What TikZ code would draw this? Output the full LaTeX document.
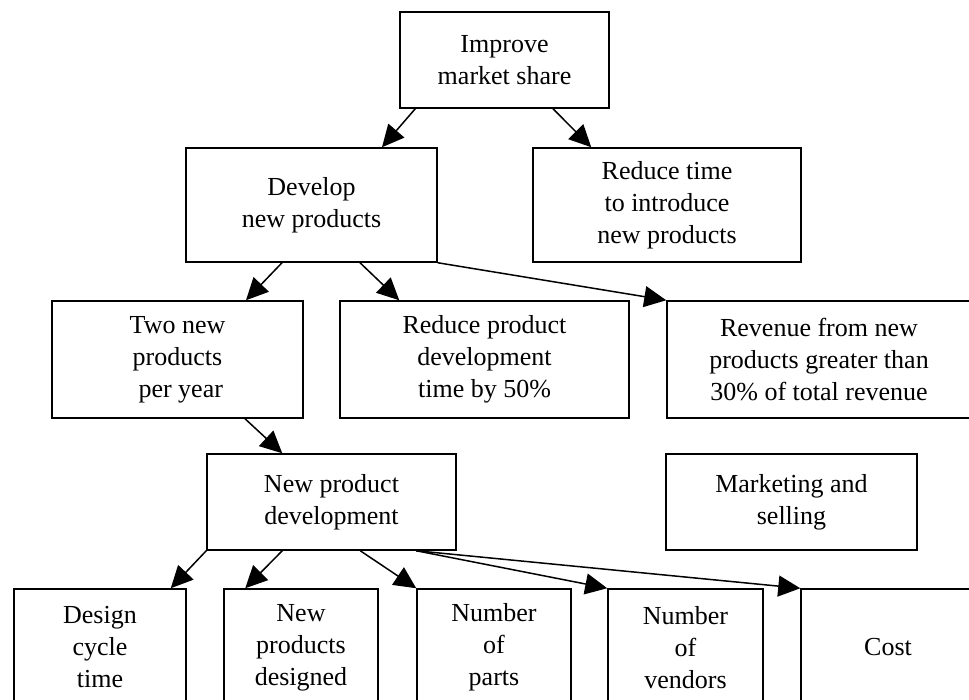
\documentclass[tikz,border=0pt]{standalone}
\usepackage{fontspec}
\setmainfont{Liberation Serif}
\usetikzlibrary{arrows.meta}

\begin{document}
\begin{tikzpicture}[x=1pt, y=-1pt, line width=1.5pt, >={Triangle[length=22pt,width=21pt]},
	box/.style={draw, align=center, inner sep=0pt, minimum height=117pt, font=\fontsize{26}{32}\selectfont}]

				\useasboundingbox (0,0) rectangle (969,700);
				\clip (0,0) rectangle (969,700); %hoja recortada

				% nivel 1 y 2
				\node [box, minimum width=209pt, minimum height=96pt] (imp) at (504.5,60) {Improve\\market share};
				\node [box, minimum width=251pt, minimum height=114pt] (dev) at (311.5,205) {Develop\\new products};
				\node [box, minimum width=268pt, minimum height=114pt] (rtime) at (667,205) {Reduce time\\to introduce\\new products};

				% nivel 3
				\node [box, minimum width=251pt] (two) at (177.5,359.5) {Two new\\products\\\ per year};
				\node [box, minimum width=289pt] (rpd) at (484.5,359.5) {Reduce product\\development\\time by 50\%};
				\node [box, minimum width=304pt] (rev) at (819,359.5) {Revenue from new\\products greater than\\30\% of total revenue};

				% nivel 4
				\node [box, minimum width=249pt, minimum height=96pt] (npd) at (331.5,502) {New product\\development};
				\node [box, minimum width=251pt, minimum height=96pt] (mkt) at (791.5,502) {Marketing and\\selling};

				% nivel 5
				\node [box, minimum width=172pt] (dct) at (100,647.5) {Design\\cycle\\time};
				\node [box, minimum width=154pt] (npdes) at (301,647.5) {New\\products\\designed};
				\node [box, minimum width=154pt] (nparts) at (494,647.5) {Number\\of\\parts};
				\node [box, minimum width=155pt] (nvend) at (685.5,647.5) {Number\\of\\vendors};
				\node [box, minimum width=174pt] (cost) at (888,647.5) {Cost};

				\draw [->] ([xshift=16pt]imp.south west) -- ([xshift=70.5pt]dev.north);
				\draw [->] ([xshift=48.5pt]imp.south) -- ([xshift=59pt]rtime.north west);
				\draw [->] ([xshift=-29.5pt]dev.south) -- ([xshift=68.5pt]two.north);
				\draw [->] ([xshift=48.5pt]dev.south) -- ([xshift=60pt]rpd.north west);
				\draw [->] (dev.south east) -- (rev.north west); %flecha larga
				\draw [->] ([xshift=67.5pt]two.south) -- ([xshift=76pt]npd.north west);
				\draw [->] (npd.south west) -- ([xshift=-16pt]dct.north east);
				\draw [->] ([xshift=76pt]npd.south west) -- ([xshift=22pt]npdes.north west);
				\draw [->] ([xshift=154pt]npd.south west) -- (nparts.north west);
				\draw [->] ([xshift=210pt]npd.south west) -- (nvend.north west);
				\draw [->] ([xshift=210pt]npd.south west) -- (cost.north west);

\end{tikzpicture}
\end{document}
